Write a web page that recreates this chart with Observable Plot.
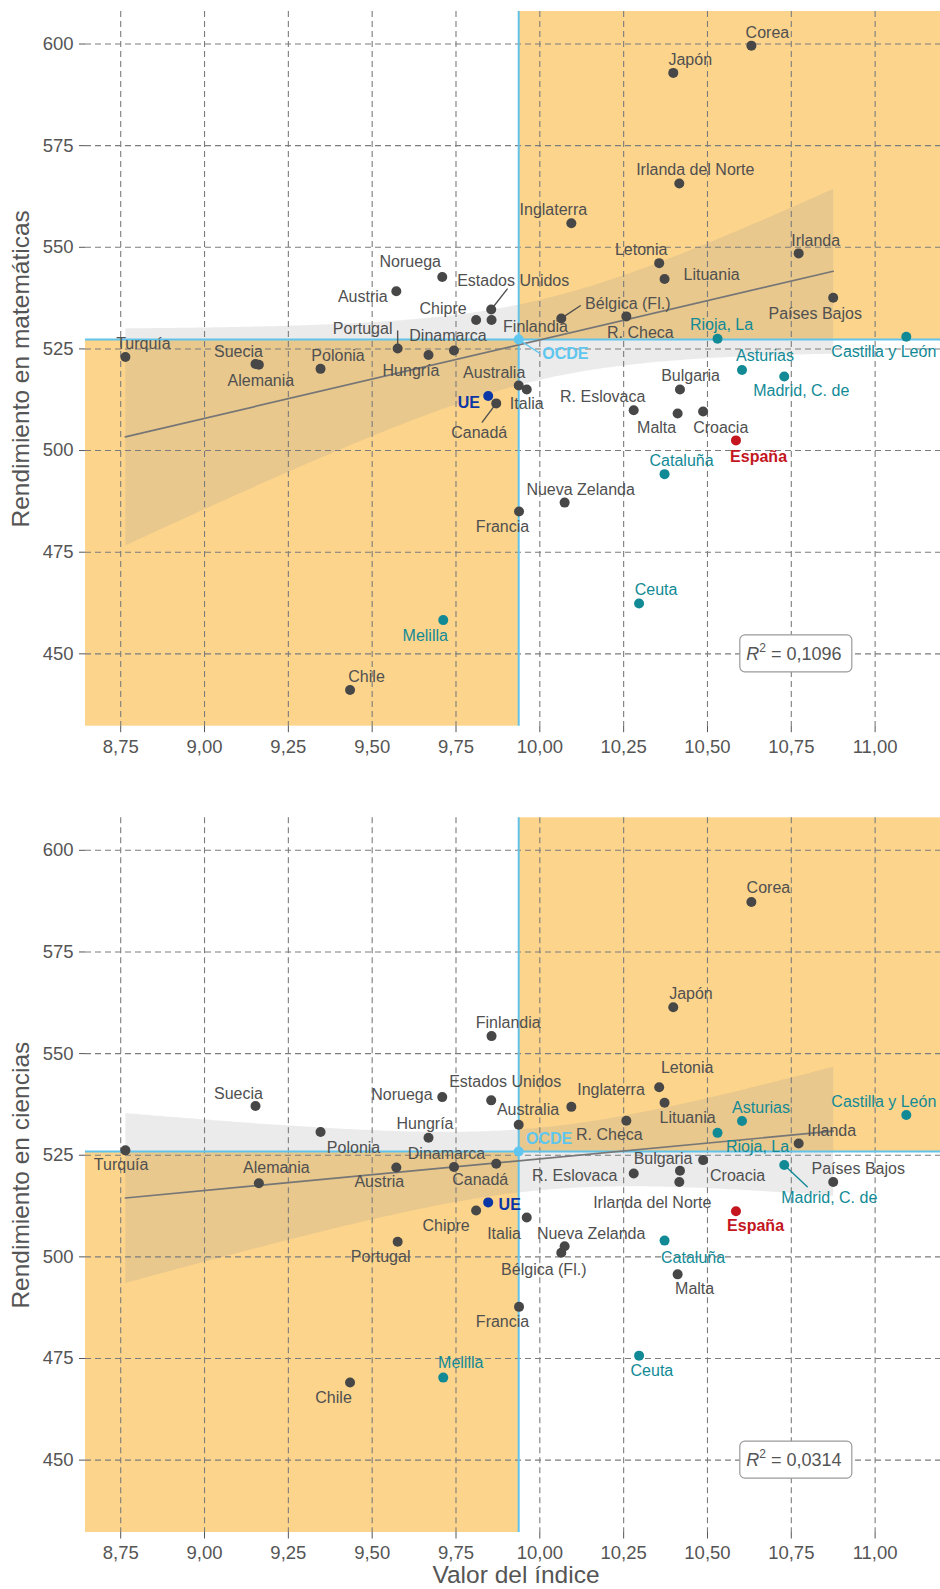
<!DOCTYPE html>
<html><head><meta charset="utf-8">
<script src="https://cdn.jsdelivr.net/npm/d3@7"></script>
<script src="https://cdn.jsdelivr.net/npm/@observablehq/plot@0.6"></script>
<style>
html,body{margin:0;padding:0;background:#fff;}
#chart svg{display:block;}
</style></head><body><div id="chart"></div>
<script>
// ---------- DATA ----------
const nombres = ["Turquía","Suecia","Alemania","Polonia","Chile","Austria","Portugal","Hungría","Noruega","Dinamarca","Chipre","Estados Unidos","Finlandia","Canadá","Australia","Francia","Italia","Bélgica (Fl.)","Nueva Zelanda","Inglaterra","R. Checa","R. Eslovaca","Letonia","Lituania","Japón","Malta","Irlanda del Norte","Bulgaria","Croacia","España","Corea","Irlanda","Países Bajos","Rioja, La","Asturias","Madrid, C. de","Castilla y León","Cataluña","Ceuta","Melilla","UE","OCDE"];
const tipo = ["pais","pais","pais","pais","pais","pais","pais","pais","pais","pais","pais","pais","pais","pais","pais","pais","pais","pais","pais","pais","pais","pais","pais","pais","pais","pais","pais","pais","pais","espana","pais","pais","pais","region","region","region","region","region","region","region","ue","ocde"];
const indice = [8.764,9.152,9.162,9.346,9.434,9.572,9.576,9.668,9.709,9.744,9.810,9.855,9.856,9.870,9.937,9.938,9.961,10.064,10.074,10.094,10.258,10.280,10.356,10.372,10.398,10.411,10.416,10.418,10.487,10.585,10.631,10.772,10.875,10.530,10.603,10.729,11.093,10.372,10.296,9.712,9.846,9.937];
const matematicas = [523.0,521.3,521.1,520.1,441.1,539.2,525.1,523.5,542.7,524.6,532.1,534.7,532.1,511.6,516.0,485.0,515.0,532.5,487.2,555.9,533.0,509.9,546.1,542.2,592.9,509.1,565.7,515.0,509.6,502.5,599.6,548.5,537.6,527.5,519.8,518.2,528.0,494.2,462.4,458.3,513.4,527.3];
const ciencias = [526.2,537.1,518.1,530.7,469.1,522.0,503.7,529.3,539.3,522.1,511.4,538.5,554.3,522.9,532.5,487.7,509.7,501.0,502.6,536.9,533.5,520.5,541.7,537.9,561.4,495.7,518.4,521.2,523.8,511.2,587.3,527.9,518.4,530.5,533.4,522.6,534.9,504.0,475.7,470.3,513.4,525.9];
const ticksX = [8.75, 9, 9.25, 9.5, 9.75, 10, 10.25, 10.5, 10.75, 11];
const ticksY = [450, 475, 500, 525, 550, 575, 600];
const r2 = ["0,1096", "0,0314"];
const titulosY = ["Rendimiento en matemáticas", "Rendimiento en ciencias"];
const tituloX = "Valor del índice";

// ---------- LABEL PLACEMENT (pixel offsets from each point) ----------
const etiquetasMat = {
  "Corea":[16,-13],"Japón":[17,-13],"Irlanda del Norte":[16,-14],"Inglaterra":[-18,-13],"Letonia":[-18,-13],
  "Lituania":[47,-4],"Irlanda":[17,-13],"Países Bajos":[-18,16],"Bélgica (Fl.)":[66.5,-14.4],"R. Checa":[14,16],
  "Finlandia":[44,6.5],"Estados Unidos":[22,-29],"Noruega":[-32,-15],"Austria":[-33.5,6],"Chipre":[-33,-11.5],
  "Portugal":[-35,-20],"Dinamarca":[-6,-14.5],"Hungría":[-17.5,16],"Polonia":[17.5,-13],"Suecia":[-17,-12.5],
  "Alemania":[2,16],"Turquía":[18,-13],"Australia":[-24.5,-13],"Italia":[0,14],"UE":[-19.4,7],"Canadá":[-17,29],
  "OCDE":[46.7,14.7],"R. Eslovaca":[-31,-13],"Bulgaria":[10.5,-14],"Malta":[-21,14],"Croacia":[17.6,16],
  "España":[22.6,16],"Cataluña":[17,-13.7],"Asturias":[23,-14],"Madrid, C. de":[17,14.7],"Rioja, La":[4,-14],
  "Castilla y León":[-22.5,15],"Nueva Zelanda":[16,-13],"Francia":[-16.5,15.4],"Ceuta":[17,-14],"Melilla":[-18,15.3],
  "Chile":[16.5,-13]
};
const etiquetasCien = {
  "Corea":[17,-14],"Japón":[17.7,-13.6],"Finlandia":[16.7,-13.5],"Letonia":[28,-19.7],"Inglaterra":[39.7,-17.3],
  "Estados Unidos":[14,-18.7],"Noruega":[-40.3,-2.4],"Australia":[9.3,-15],"Lituania":[23,15.4],"R. Checa":[-17,14.3],
  "OCDE":[30.4,-13],"Asturias":[19,-13.3],"Castilla y León":[-22.5,-13.3],"Irlanda":[33,-12.3],"Rioja, La":[40,13.7],
  "Bulgaria":[-17,-12.3],"Croacia":[34.5,15.3],"R. Eslovaca":[-59,2],"Países Bajos":[25,-13],"Madrid, C. de":[45,32.7],
  "Irlanda del Norte":[-27,21],"España":[19.6,15],"Italia":[-22.7,16.7],"Nueva Zelanda":[26.5,-12.3],
  "Bélgica (Fl.)":[-17.5,17],"Cataluña":[28.5,17.4],"Malta":[17,14.8],"Francia":[-16.5,15],"Ceuta":[12.8,15.3],
  "UE":[21.5,2],"Chipre":[-30,15.7],"Canadá":[-16,16],"Dinamarca":[-7.5,-13.5],"Hungría":[-3.5,-14.3],
  "Polonia":[33,15.7],"Austria":[-17,14.8],"Portugal":[-17,15.5],"Suecia":[-17,-12.6],"Alemania":[17.5,-15],
  "Turquía":[-4.3,14.6],"Chile":[-16.5,15.4],"Melilla":[17.5,-15]
};
const guiasMat = {"Estados Unidos":[16,-20.4],"Bélgica (Fl.)":[19,-12.7],"Portugal":[0,-17.5],"Canadá":[-14,18.7],"OCDE":[21,13.7]};
const guiasCien = {"Madrid, C. de":[23,21.7]};
const posR2 = [10.765, 450];

// ---------- STYLE ----------
const colores = {pais:"#474747", espana:"#c3161f", region:"#128a96", ue:"#0a36a6", ocde:"#5fc6ef"};
const coloresTexto = {pais:"#505050", espana:"#c3161f", region:"#128a96", ue:"#0a36a6", ocde:"#5fc6ef"};
const FONT = "'Liberation Sans', Arial, Helvetica, sans-serif";
const fmt = v => v.toFixed(2).replace(".", ",");

function panel(i) {
  const valores = i === 0 ? matematicas : ciencias;
  const data = nombres.map((n, k) => ({name: n, tipo: tipo[k], x: indice[k], y: valores[k]}));
  const ocde = data.filter(d => d.tipo === "ocde");
  const paises = data.filter(d => d.tipo === "pais" || d.tipo === "espana");
  const o = ocde[0];
  const xDom = [8.645, 11.195], yDom = [432.2, 608];
  const cuadrantes = [
    {x1: xDom[0], x2: o.x, y1: yDom[0], y2: o.y},
    {x1: o.x, x2: xDom[1], y1: o.y, y2: yDom[1]}
  ];
  const labs = i === 0 ? etiquetasMat : etiquetasCien;
  const guias = i === 0 ? guiasMat : guiasCien;
  const grid = {stroke: "#7c7c7c", strokeOpacity: 1, strokeDasharray: "6,4", strokeWidth: 1.1};

  const leaderMarks = Object.entries(guias).map(([n, [dx, dy]]) => {
    const d = data.find(e => e.name === n);
    return Plot.vector([d], {x: "x", y: "y", length: Math.hypot(dx, dy), rotate: Math.atan2(dx, -dy) * 180 / Math.PI,
      anchor: "start", r: 0, stroke: coloresTexto[d.tipo], strokeWidth: 1.4});
  });
  const labelMarks = data.filter(d => labs[d.name]).map(d => Plot.text([d], {
    x: "x", y: "y", text: "name", dx: labs[d.name][0], dy: labs[d.name][1],
    fill: coloresTexto[d.tipo], fontSize: 16,
    fontWeight: (d.tipo === "pais" || d.tipo === "region") ? "normal" : "bold"
  }));

  const marks = [
    Plot.rect(cuadrantes, {x1: "x1", x2: "x2", y1: "y1", y2: "y2", fill: "#fcd48c"}),
    Plot.linearRegressionY(paises, {x: "x", y: "y", stroke: "none", fill: "#969696", fillOpacity: 0.19, ci: 0.95}),
    Plot.gridX({ticks: ticksX, ...grid}),
    Plot.gridY({ticks: ticksY, ...grid}),
    Plot.axisX({ticks: ticksX, tickFormat: fmt, tickSize: 6.5, tickPadding: 7, fontSize: 18.5, color: "#555", label: null}),
    Plot.axisY({ticks: ticksY, tickSize: 6, tickPadding: 6, fontSize: 18.5, color: "#555", label: null}),
    Plot.ruleY(ocde, {y: "y", stroke: "#62c3ea", strokeWidth: 2}),
    Plot.ruleX(ocde, {x: "x", stroke: "#62c3ea", strokeWidth: 2}),
    Plot.linearRegressionY(paises, {x: "x", y: "y", stroke: "#767676", strokeWidth: 1.7, ci: 0}),
    ...leaderMarks,
    Plot.dot(data, {x: "x", y: "y", r: 5, fill: d => colores[d.tipo], stroke: "none"}),
    ...labelMarks,
    Plot.text([titulosY[i]], {frameAnchor: "left", textAnchor: "middle", lineAnchor: "middle", dx: -64.5, rotate: -90, fontSize: 24.5, fill: "#555"})
  ];
  if (i === 1) marks.push(Plot.text([tituloX], {frameAnchor: "bottom", textAnchor: "middle", lineAnchor: "middle", dx: 3, dy: 43, fontSize: 24.5, fill: "#555"}));

  const svg = Plot.plot({
    width: 940,
    height: i === 0 ? 790 : 799,
    marginTop: i === 0 ? 11 : 27.3,
    marginBottom: i === 0 ? 64.3 : 57,
    marginLeft: 85,
    marginRight: 0,
    style: {fontFamily: FONT, background: "#fff", overflow: "visible"},
    x: {domain: xDom},
    y: {domain: yDom},
    marks
  });

  // R² annotation box
  const sx = svg.scale("x"), sy = svg.scale("y");
  const cx = sx.apply(posR2[0]), cy = sy.apply(posR2[1]);
  const g = d3.select(svg).append("g");
  g.append("rect").attr("x", cx - 56).attr("y", cy - 18.5).attr("width", 112).attr("height", 37)
    .attr("rx", 5).attr("fill", "#fff").attr("stroke", "#9a9a9a").attr("stroke-width", 1.2);
  const t = g.append("text").attr("x", cx - 2).attr("y", cy + 6.5).attr("text-anchor", "middle")
    .attr("font-size", 18).attr("fill", "#555").attr("font-family", FONT);
  t.append("tspan").attr("font-style", "italic").text("R");
  t.append("tspan").attr("font-size", 12).attr("dy", -8).text("2");
  t.append("tspan").attr("dy", 8).text(" = " + r2[i]);
  return svg;
}

const root = document.getElementById("chart");
root.appendChild(panel(0));
root.appendChild(panel(1));
</script>
</body></html>
